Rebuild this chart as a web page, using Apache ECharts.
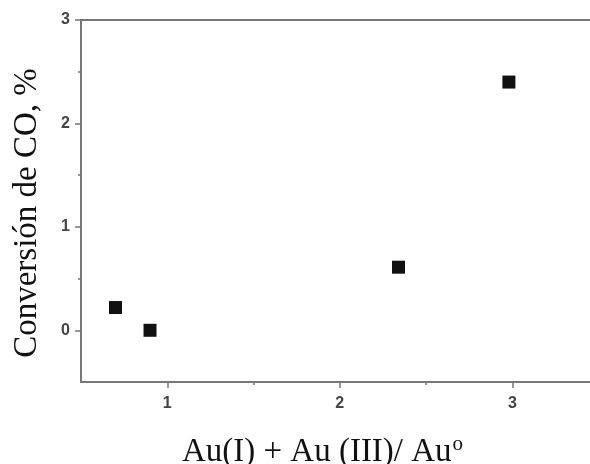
<!DOCTYPE html>
<html>
<head>
<meta charset="utf-8">
<script src="https://cdn.jsdelivr.net/npm/echarts@6/dist/echarts.min.js"></script>
<style>
html,body{margin:0;padding:0;background:#fff;}
#c{width:590px;height:464px;}
</style>
</head>
<body>
<div id="c"></div>
<script>
// Data
var ratioX = [0.70, 0.90, 2.34, 2.98];
var conversion = [0.22, 0.00, 0.61, 2.40];
var xMajorTicks = [1, 2, 3];
var xMinorTicks = [1.5, 2.5];
var yMajorTicks = [0, 1, 2, 3];
var yMinorTicks = [0.5, 1.5, 2.5];
var xRange = [0.5, 3.45];
var yRange = [-0.5, 3];

var axisColor = '#777';
var labelColor = '#444';
var serif = 'Liberation Serif, Times New Roman, serif';
var sans = 'Liberation Sans, Arial, sans-serif';

var points = ratioX.map(function (x, i) { return [x, conversion[i]]; });

var chart = echarts.init(document.getElementById('c'));
chart.setOption({
  backgroundColor: '#fff',
  animation: false,
  grid: { left: 81, top: 20, right: 0, bottom: 82, containLabel: false, outerBoundsMode: 'none' },
  xAxis: [
    {
      type: 'value', min: xRange[0], max: xRange[1], position: 'bottom',
      splitLine: { show: false },
      axisLine: { show: true, onZero: false, lineStyle: { color: axisColor, width: 2 } },
      axisTick: { show: true, customValues: xMajorTicks, length: 6, lineStyle: { color: axisColor, width: 1.5 } },
      axisLabel: { customValues: xMajorTicks, color: labelColor, fontFamily: sans, fontSize: 16, fontWeight: 'bold', margin: 14 },
      name: '{m|Au(I) + Au (III)/ Au}{s|o}',
      nameLocation: 'middle', nameGap: 49,
      nameTextStyle: {
        padding: [0, 26, 0, 0],
        rich: {
          m: { fontFamily: serif, fontSize: 33, color: '#111', lineHeight: 38, verticalAlign: 'bottom' },
          s: { fontFamily: serif, fontSize: 21, color: '#111', lineHeight: 38, verticalAlign: 'top', padding: [3, 0, 0, 1] }
        }
      }
    },
    {
      type: 'value', min: xRange[0], max: xRange[1], position: 'bottom',
      splitLine: { show: false },
      axisLine: { show: false, onZero: false },
      axisTick: { show: true, customValues: xMinorTicks, length: 3, lineStyle: { color: axisColor, width: 1.5 } },
      axisLabel: { show: false }
    },
    {
      type: 'value', min: xRange[0], max: xRange[1], position: 'top',
      splitLine: { show: false },
      axisLine: { show: true, onZero: false, lineStyle: { color: axisColor, width: 2 } },
      axisTick: { show: false },
      axisLabel: { show: false }
    }
  ],
  yAxis: [
    {
      type: 'value', min: yRange[0], max: yRange[1], position: 'left',
      splitLine: { show: false },
      axisLine: { show: true, onZero: false, lineStyle: { color: axisColor, width: 2 } },
      axisTick: { show: true, customValues: yMajorTicks, length: 6, lineStyle: { color: axisColor, width: 1.5 } },
      axisLabel: { customValues: yMajorTicks, color: labelColor, fontFamily: sans, fontSize: 16, fontWeight: 'bold', margin: 11 },
      name: 'Conversión de CO, %',
      nameLocation: 'middle', nameGap: 37, nameRotate: 90,
      nameTextStyle: { fontFamily: serif, fontSize: 33, color: '#111', padding: [0, 24, 0, 0] }
    },
    {
      type: 'value', min: yRange[0], max: yRange[1], position: 'left',
      splitLine: { show: false },
      axisLine: { show: false, onZero: false },
      axisTick: { show: true, customValues: yMinorTicks, length: 3, lineStyle: { color: axisColor, width: 1.5 } },
      axisLabel: { show: false }
    }
  ],
  series: [{
    type: 'scatter',
    xAxisIndex: 0, yAxisIndex: 0,
    symbol: 'rect',
    symbolSize: 13,
    itemStyle: { color: '#111', opacity: 1 },
    data: points
  }]
});
</script>
</body>
</html>
